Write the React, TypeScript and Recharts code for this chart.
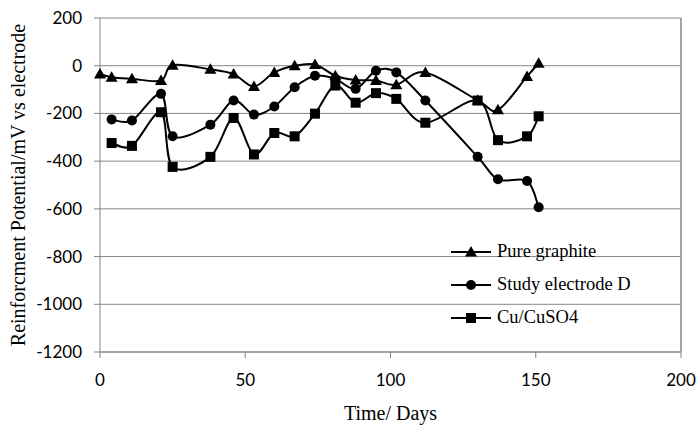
import React from "react";
import {
  LineChart,
  Line,
  XAxis,
  YAxis,
  CartesianGrid,
  Legend,
  ReferenceLine,
  Label,
} from "recharts";

const pureDays = [0, 4, 11, 21, 25, 38, 46, 53, 60, 67, 74, 81, 88, 95, 102, 112, 130, 137, 147, 151];
const pureVals = [-35, -48, -55, -62, 2, -15, -35, -87, -28, 0, 5, -42, -60, -62, -80, -28, -145, -185, -45, 10];

const studyDays = [4, 11, 21, 25, 38, 46, 53, 60, 67, 74, 81, 88, 95, 102, 112, 130, 137, 147, 151];
const studyVals = [-225, -230, -118, -296, -247, -146, -205, -171, -90, -42, -55, -97, -21, -28, -146, -382, -476, -483, -593];

const cuDays = [4, 11, 21, 25, 38, 46, 53, 60, 67, 74, 81, 88, 95, 102, 112, 130, 137, 147, 151];
const cuVals = [-324, -336, -195, -424, -382, -219, -372, -282, -296, -201, -83, -155, -115, -139, -239, -146, -312, -296, -212];

const xTicks = [0, 50, 100, 150, 200];
const yTicks = [-1200, -1000, -800, -600, -400, -200, 0, 200];

const seriesNames = ["Pure graphite", "Study electrode D", "Cu/CuSO4"];

const pureData = pureDays.map((d, i) => ({ day: d, v: pureVals[i] }));
const studyData = studyDays.map((d, i) => ({ day: d, v: studyVals[i] }));
const cuData = cuDays.map((d, i) => ({ day: d, v: cuVals[i] }));

const GRID = "#868686";
const SERIF = "'Liberation Serif', 'Times New Roman', serif";
const SANS = "Lato, 'Noto Sans', sans-serif";

// Excel-like smoothed line (Catmull-Rom via cubic Bezier)
function smoothCurve(context: any) {
  let pts: number[][] = [];
  return {
    areaStart() {},
    areaEnd() {},
    lineStart() {
      pts = [];
    },
    point(x: number, y: number) {
      pts.push([+x, +y]);
    },
    lineEnd() {
      if (!pts.length) return;
      context.moveTo(pts[0][0], pts[0][1]);
      for (let i = 0; i < pts.length - 1; i++) {
        const p0 = pts[i - 1] || pts[i];
        const p1 = pts[i];
        const p2 = pts[i + 1];
        const p3 = pts[i + 2] || p2;
        context.bezierCurveTo(
          p1[0] + (p2[0] - p0[0]) / 6,
          p1[1] + (p2[1] - p0[1]) / 6,
          p2[0] - (p3[0] - p1[0]) / 6,
          p2[1] - (p3[1] - p1[1]) / 6,
          p2[0],
          p2[1]
        );
      }
    },
  };
}

const Tri = (p: any) => {
  const { cx, cy, index } = p;
  if (cx == null || cy == null) return <g key={"t" + index} />;
  const s = 6;
  return (
    <path
      key={"t" + index}
      d={`M${cx},${cy - s} L${cx + s},${cy + s * 0.75} L${cx - s},${cy + s * 0.75} Z`}
      fill="#000"
    />
  );
};
const Circ = (p: any) => {
  const { cx, cy, index } = p;
  if (cx == null || cy == null) return <g key={"c" + index} />;
  return <circle key={"c" + index} cx={cx} cy={cy} r={5} fill="#000" />;
};
const Sq = (p: any) => {
  const { cx, cy, index } = p;
  if (cx == null || cy == null) return <g key={"s" + index} />;
  return <rect key={"s" + index} x={cx - 5} y={cy - 5} width={10} height={10} fill="#000" />;
};

const iconFor = (i: number) => {
  if (i === 0) return <path d="M20,5 L26,15.5 L14,15.5 Z" fill="#000" />;
  if (i === 1) return <circle cx={20} cy={11} r={5} fill="#000" />;
  return <rect x={15} y={6} width={10} height={10} fill="#000" />;
};

const LegendContent = () => (
  <div style={{ fontFamily: SERIF, fontSize: 18.5, color: "#000", lineHeight: 1 }}>
    {seriesNames.map((n, i) => (
      <div key={n} style={{ display: "flex", alignItems: "center", height: 33 }}>
        <svg width={40} height={22} style={{ marginRight: 6 }}>
          <line x1={0} y1={11} x2={40} y2={11} stroke="#000" strokeWidth={2} />
          {iconFor(i)}
        </svg>
        <span style={{ whiteSpace: "nowrap" }}>{n}</span>
      </div>
    ))}
  </div>
);

export default function App() {
  return (
    <div style={{ position: "absolute", left: 0, top: 0, background: "#fff" }}>
      <LineChart
        width={698}
        height={427}
        margin={{ top: 18, right: 17, bottom: 15, left: 0 }}
      >
        <CartesianGrid horizontal vertical={false} stroke={GRID} strokeWidth={1} />
        <ReferenceLine x={200} stroke={GRID} strokeWidth={1.5} ifOverflow="extendDomain" />
        <XAxis
          type="number"
          dataKey="day"
          domain={[0, 200]}
          ticks={xTicks}
          allowDuplicatedCategory={false}
          height={60}
          stroke={GRID}
          tickSize={6}
          tickMargin={16}
          tick={{ fill: "#000", fontFamily: SANS, fontSize: 17 }}
        >
          <Label
            content={(props: any) => {
              const vb = props.viewBox || {};
              return (
                <text
                  x={vb.x + vb.width / 2}
                  y={420}
                  textAnchor="middle"
                  fontFamily={SERIF}
                  fontSize={20}
                  fill="#000"
                >
                  Time/ Days
                </text>
              );
            }}
          />
        </XAxis>
        <YAxis
          type="number"
          domain={[-1200, 200]}
          ticks={yTicks}
          width={100}
          stroke={GRID}
          tickSize={6}
          tickMargin={12}
          tick={{ fill: "#000", fontFamily: SANS, fontSize: 17 }}
        >
          <Label
            content={(props: any) => {
              const vb = props.viewBox || {};
              const cx = vb.x + 18;
              const cy = vb.y + vb.height / 2;
              return (
                <text
                  x={cx}
                  y={cy}
                  transform={`rotate(-90 ${cx} ${cy})`}
                  textAnchor="middle"
                  dominantBaseline="central"
                  fontFamily={SERIF}
                  fontSize={20}
                  fill="#000"
                >
                  Reinforcment Potential/mV vs electrode
                </text>
              );
            }}
          />
        </YAxis>
        <Legend
          layout="horizontal"
          verticalAlign="middle"
          align="center"
          content={<LegendContent />}
          wrapperStyle={{ position: "absolute", left: 451, top: 235, width: 220 }}
        />
        <Line
          data={pureData}
          dataKey="v"
          name={seriesNames[0]}
          type={smoothCurve as any}
          stroke="#000"
          strokeWidth={2}
          dot={Tri}
          activeDot={false}
          isAnimationActive={false}
        />
        <Line
          data={studyData}
          dataKey="v"
          name={seriesNames[1]}
          type={smoothCurve as any}
          stroke="#000"
          strokeWidth={2}
          dot={Circ}
          activeDot={false}
          isAnimationActive={false}
        />
        <Line
          data={cuData}
          dataKey="v"
          name={seriesNames[2]}
          type={smoothCurve as any}
          stroke="#000"
          strokeWidth={2}
          dot={Sq}
          activeDot={false}
          isAnimationActive={false}
        />
      </LineChart>
    </div>
  );
}
